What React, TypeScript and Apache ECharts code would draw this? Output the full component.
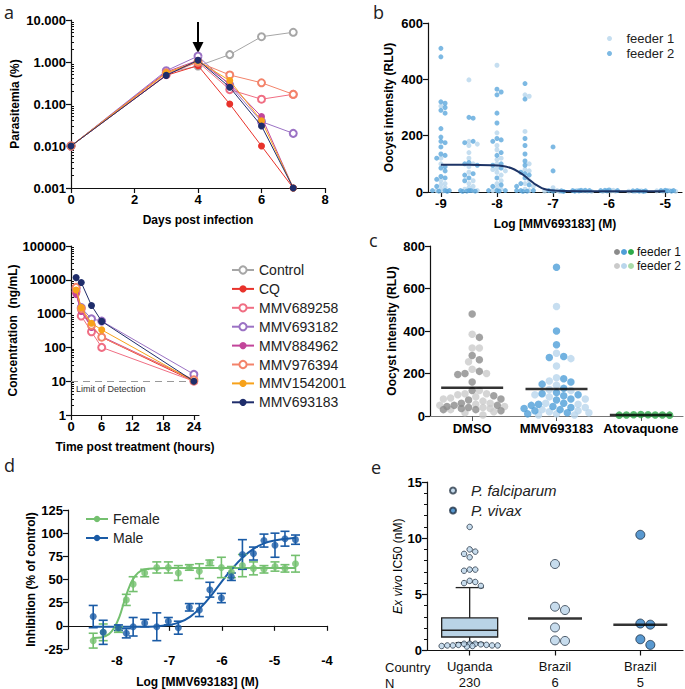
import React, { useEffect, useRef } from 'react';
import * as echarts from 'echarts';

const FONT = '"Liberation Sans", Arial, Helvetica, sans-serif';

// ---------- panel a (top): parasitemia ----------
const COMPOUNDS = ['Control', 'CQ', 'MMV689258', 'MMV693182', 'MMV884962', 'MMV976394', 'MMV1542001', 'MMV693183'];
const DAYS = [0, 3, 4, 5, 6, 7];
const paraControl = [0.01, 0.55, 0.8, 1.5, 4.0, 5.1];
const paraCQ = [0.01, 0.48, 0.82, 0.1, 0.01, 0.001];
const para689258 = [0.01, 0.5, 1.0, 0.22, 0.13, 0.17];
const para693182 = [0.01, 0.62, 1.38, 0.28, 0.038, 0.02];
const para884962 = [0.01, 0.58, 1.1, 0.3, 0.05, 0.001];
const para976394 = [0.01, 0.55, 1.0, 0.49, 0.32, 0.17];
const para1542001 = [0.01, 0.55, 1.05, 0.36, 0.04, 0.001];
const para693183 = [0.01, 0.48, 1.1, 0.25, 0.03, 0.001];
const PARASITEMIA = [paraControl, paraCQ, para689258, para693182, para884962, para976394, para1542001, para693183];
const PARA_TICKS = [0.001, 0.01, 0.1, 1, 10];
const ARROW_DAY = 4;
const ARROW_FROM = 9;
const ARROW_TO = 2.2;

// ---------- panel a (bottom): PK ----------
const PK_HOURS = [1, 2, 4, 6, 24];
const pkControl: number[] = [];
const pkCQ = [4000, 1300, 420, 200, 10];
const pk689258 = [4500, 850, 290, 100, 10];
const pk693182 = [5500, 1500, 700, 600, 16];
const pk884962 = [3700, 1150, 390, 210, 11];
const pk976394 = [6000, 1400, 450, 200, 11];
const pk1542001 = [5000, 1500, 520, 330, 10];
const pk693183 = [11600, 8300, 1740, 590, 10];
const PK = [pkControl, pkCQ, pk689258, pk693182, pk884962, pk976394, pk1542001, pk693183];
const PK_TICKS = [1, 10, 100, 1000, 10000, 100000];
const PK_HOUR_TICKS = [0, 6, 12, 18, 24];
const LOD = 10;

// ---------- panel b ----------
const B_CONC = [-9, -8.5, -8, -7.5, -7, -6.5, -6, -5.5, -5];
const B_TICKS = [-9, -8, -7, -6, -5];
const bFeeder1 = [
  [305, 120, 100, 40, 30, 25, 15, 10, 5, 3],
  [398, 180, 170, 165, 140, 120, 100, 90, 70, 40, 30, 20, 15, 10, 5, 5],
  [450, 210, 165, 150, 120, 115, 100, 85, 80, 75, 70, 60, 40, 30, 15, 10, 5],
  [345, 340, 215, 100, 80, 75, 40, 30, 20, 10, 5],
  [15, 5, 3, 2],
  [4, 3, 2, 5],
  [3, 4, 2, 6],
  [2, 3, 4],
  [3, 2, 5, 4],
];
const bFeeder2 = [
  [510, 480, 320, 315, 300, 290, 280, 225, 195, 180, 175, 160, 135, 130, 120, 90, 85, 75, 55, 50, 45, 20, 5, 5, 5, 3, 2],
  [265, 262, 180, 175, 105, 100, 95, 65, 60, 50, 40, 5, 5, 5, 3, 3, 2],
  [365, 355, 345, 280, 245, 190, 185, 180, 140, 130, 100, 95, 85, 50, 25, 20, 5, 5, 5, 3],
  [385, 330, 190, 165, 135, 110, 95, 70, 65, 60, 50, 30, 25, 20, 5, 5, 5, 3, 2],
  [160, 75, 5, 3, 2, 4],
  [5, 6, 4, 5, 3, 6],
  [6, 5, 4, 7, 5],
  [4, 3, 5, 4, 2],
  [5, 6, 4, 5, 3],
];
const B_FIT_X = [-9, -8.5, -8.1, -7.9, -7.75, -7.6, -7.5, -7.4, -7.3, -7.2, -7.1, -7.0, -6.8, -6.5, -6, -5];
const B_FIT_Y = [97, 97, 95, 92, 85, 70, 56, 40, 25, 14, 8, 5, 3.5, 3, 3, 3];

// ---------- panel c ----------
const C_GROUPS = ['DMSO', 'MMV693183', 'Atovaquone'];
const cDmso1 = [480, 370, 285, 265, 210, 200, 195, 160, 120, 95, 80, 75, 60, 50, 50, 45, 40, 35, 30, 30, 25];
const cDmso2 = [385, 320, 320, 255, 220, 200, 120, 105, 105, 100, 90, 85, 80, 70, 60, 55, 50, 45, 40, 35, 30, 20, 15, 5];
const cMmv1 = [700, 400, 335, 280, 275, 175, 160, 150, 130, 110, 105, 100, 95, 80, 75, 60, 55, 50, 45, 40, 35, 30, 25, 15, 10];
const cMmv2 = [515, 295, 270, 235, 180, 165, 145, 125, 120, 100, 90, 80, 60, 55, 40, 30, 25, 20, 15, 10, 5, 5];
const cAtov1 = [5, 6, 4, 7, 5, 6, 4, 5];
const C_MEANS = [133, 127, 5];

// ---------- panel d ----------
const D_LOG = [-8.45, -8.26, -7.97, -7.82, -7.69, -7.47, -7.24, -7.02, -6.83, -6.62, -6.43, -6.23, -6.01, -5.82, -5.61, -5.4, -5.2, -4.99, -4.8, -4.6];
const dFemale = [-16, -7, -4, 28, 45, 57, 63, 63, 57, 63, 59, 68, 63, 58, 65, 62, 61, 64, 62, 67];
const dFemaleErr = [8, 9, 3, 6, 8, 4, 6, 6, 8, 3, 8, 3, 11, 6, 12, 7, 4, 5, 4, 9];
const dMale = [10, -7, -2, -8, -1, 3, -1, 5, -2, 20, 17, 39, 30, 53, 77, 78, 92, 87, 94, 93];
const dMaleErr = [12, 13, 3, 5, 10, 4, 15, 4, 7, 4, 7, 8, 5, 4, 16, 7, 7, 13, 8, 5];
const D_FEMALE_FIT_X = [-8.45, -8.3, -8.15, -8.05, -7.95, -7.85, -7.75, -7.65, -7.55, -7.4, -7.0, -6, -4.6];
const D_FEMALE_FIT_Y = [-13, -12.5, -9, -2, 10, 28, 44, 54, 59, 61.5, 62.5, 62.5, 62.5];
const D_MALE_FIT_X = [-8.45, -7.5, -7.0, -6.8, -6.6, -6.4, -6.2, -6.0, -5.8, -5.6, -5.4, -5.2, -5.0, -4.6];
const D_MALE_FIT_Y = [-1, -1, 1, 4, 10, 20, 33, 48, 62, 74, 83, 89, 92, 95];
const D_X_TICKS = [-8, -7, -6, -5, -4];

// ---------- panel e ----------
const E_COUNTRIES = ['Uganda', 'Brazil', 'Brazil'];
const E_N = ['230', '6', '5'];
const E_BOX = [0.7, 1.2, 1.8, 2.9, 5.6];
const ugandaOutliers = [11.0, 9.0, 8.8, 8.6, 8.3, 7.2, 7.1, 7.2, 6.2, 6.0, 6.1, 5.75, 0.6, 0.6, 0.45, 0.45, 0.4, 0.45, 0.5, 0.4, 0.45, 0.35, 0.6, 0.55, 0.5];
const brazilPf = [7.7, 3.9, 3.6, 2.05, 0.85, 0.9];
const brazilPv = [10.3, 2.3, 2.4, 1.0, 0.5];
const E_MEDIANS = [2.85, 2.3];

// ---------- styles / layout ----------
const COLORS = ['#a6a6a6', '#e8322b', '#f06e83', '#9b72c4', '#c2459a', '#f3836a', '#f7a21b', '#1f2d6b'];
const HOLLOW = [true, false, true, true, false, true, false, false];
const G_A1 = { left: 71, top: 20, width: 254, height: 168 };
const G_A2 = { left: 71, top: 246, width: 128, height: 169 };
const G_B = { left: 428, top: 23, width: 254, height: 169 };
const G_C = { left: 430, top: 246, width: 253, height: 170 };
const G_D = { left: 68, top: 510, width: 259, height: 168 };
const G_E = { left: 427, top: 482, width: 256, height: 169 };
const B_XMIN = -9.23, B_XMAX = -4.7;
const D_XMIN = -8.93, D_XMAX = -4;
const BLACK = '#111';

function swarm(vals: number[], pxY: number, pxX: number, diam: number, maxPx: number): number[] {
  const idx = vals.map((_, i) => i).sort((a, b) => vals[b] - vals[a]);
  const placed: [number, number][] = [];
  const out = new Array(vals.length).fill(0);
  const step = diam / 2;
  const nSteps = Math.floor(maxPx / step);
  idx.forEach((i) => {
    const y = vals[i] * pxY;
    let best = 0;
    let bestScore = -1;
    for (let k = 0; k <= nSteps * 2; k++) {
      const c = (k % 2 === 1 ? 1 : -1) * Math.ceil(k / 2) * step;
      let minD = Infinity;
      for (const [px, py] of placed) minD = Math.min(minD, Math.hypot(px - c, py - y));
      if (minD >= diam) { best = c; bestScore = Infinity; break; }
      if (minD > bestScore) { bestScore = minD; best = c; }
    }
    placed.push([best, y]);
    out[i] = best / pxX;
  });
  return out;
}

function axis(gridIndex: number, extra: any) {
  const base: any = {
    gridIndex,
    type: 'value',
    axisLine: { show: true, onZero: false, lineStyle: { color: BLACK, width: 1.2 } },
    axisTick: { show: true, length: 5, lineStyle: { color: BLACK, width: 1.2 } },
    axisLabel: { color: '#000', fontFamily: FONT, fontWeight: 'bold', fontSize: 13, margin: 5 },
    splitLine: { show: false },
    nameLocation: 'middle',
    nameTextStyle: { color: '#000', fontFamily: FONT, fontWeight: 'bold', fontSize: 12 },
  };
  const out: any = { ...base };
  Object.keys(extra).forEach((k) => {
    if (base[k] && typeof base[k] === 'object' && !Array.isArray(base[k]) && typeof extra[k] === 'object') {
      out[k] = { ...base[k], ...extra[k] };
    } else out[k] = extra[k];
  });
  return out;
}

function logMinors(lo: number, hi: number): number[] {
  const res: number[] = [];
  for (let e = Math.round(Math.log10(lo)); e < Math.round(Math.log10(hi)); e++) {
    for (let m = 2; m <= 9; m++) res.push(parseFloat((m * Math.pow(10, e)).toPrecision(6)));
  }
  return res;
}

function buildOption() {
  const series: any[] = [];

  // panel a
  COMPOUNDS.forEach((name, i) => {
    const base: any = {
      name,
      type: 'line',
      symbol: HOLLOW[i] ? 'emptyCircle' : 'circle',
      symbolSize: 7,
      color: COLORS[i],
      lineStyle: { color: COLORS[i], width: 1 },
      itemStyle: { color: COLORS[i], borderWidth: HOLLOW[i] ? 1.2 : 0 },
      z: 3 + i,
    };
    const top: any = { ...base, xAxisIndex: 0, yAxisIndex: 0, data: DAYS.map((d, j) => [d, PARASITEMIA[i][j]]) };
    if (i === 0) {
      top.markLine = {
        silent: true,
        symbol: ['none', 'triangle'],
        symbolSize: 11,
        symbolRotate: 180,
        lineStyle: { color: '#000', width: 2, type: 'solid' },
        itemStyle: { color: '#000' },
        label: { show: false },
        data: [[{ coord: [ARROW_DAY, ARROW_FROM] }, { coord: [ARROW_DAY, ARROW_TO] }]],
      };
    }
    series.push(top);
    const bot: any = { ...base, xAxisIndex: 1, yAxisIndex: 1, data: PK_HOURS.slice(0, PK[i].length).map((h, j) => [h, PK[i][j]]) };
    if (i === 1) {
      bot.markLine = {
        silent: true,
        symbol: ['none', 'none'],
        lineStyle: { color: '#999', width: 1, type: [7, 5] },
        label: { show: true, position: 'insideStartBottom', formatter: 'Limit of Detection', fontFamily: FONT, fontSize: 9, color: '#333', distance: [5, 3] },
        data: [{ yAxis: LOD }],
        z: 1,
      };
    }
    series.push(bot);
  });

  // panel b
  const pxXB = G_B.width / (B_XMAX - B_XMIN);
  const pxYB = G_B.height / 600;
  const b1: number[][] = [];
  const b2: number[][] = [];
  B_CONC.forEach((c, k) => {
    const all = bFeeder1[k].concat(bFeeder2[k]);
    const off = swarm(all, pxYB, pxXB, 4.2, 11);
    all.forEach((v, j) => {
      const pt = [c + off[j], v];
      if (j < bFeeder1[k].length) b1.push(pt); else b2.push(pt);
    });
  });
  series.push({ name: 'feeder 1', type: 'scatter', xAxisIndex: 2, yAxisIndex: 2, symbolSize: 5, itemStyle: { color: '#b7d6ec' }, data: b1, z: 2 });
  series.push({ name: 'feeder 2', type: 'scatter', xAxisIndex: 2, yAxisIndex: 2, symbolSize: 5, itemStyle: { color: '#5ca7dc' }, data: b2, z: 3 });
  series.push({
    name: 'fit b', type: 'line', xAxisIndex: 2, yAxisIndex: 2, smooth: 0.4, symbol: 'none',
    lineStyle: { color: '#1d3466', width: 2 }, data: B_FIT_X.map((x, i) => [x, B_FIT_Y[i]]), z: 5,
  });

  // panel c
  const pxXC = G_C.width / 3;
  const pxYC = G_C.height / 800;
  const cGroups = [
    { f1: cDmso1, f2: cDmso2, c1: '#8b8b8b', c2: '#cacaca' },
    { f1: cMmv1, f2: cMmv2, c1: '#4f9fd8', c2: '#b9d6ec' },
    { f1: cAtov1, f2: [] as number[], c1: '#2eaa4a', c2: '#a9dba9' },
  ];
  cGroups.forEach((g, k) => {
    const all = g.f1.concat(g.f2);
    const off = swarm(all, pxYC, pxXC, 7.2, 33);
    const d1: number[][] = [];
    const d2: number[][] = [];
    all.forEach((v, j) => {
      const pt = [k + off[j], v];
      if (j < g.f1.length) d1.push(pt); else d2.push(pt);
    });
    series.push({ name: C_GROUPS[k] + ' feeder 2', type: 'scatter', xAxisIndex: 3, yAxisIndex: 3, symbolSize: 7.5, itemStyle: { color: g.c2 }, data: d2, z: 2 });
    series.push({ name: C_GROUPS[k] + ' feeder 1', type: 'scatter', xAxisIndex: 3, yAxisIndex: 3, symbolSize: 7.5, itemStyle: { color: g.c1 }, data: d1, z: 3 });
  });
  series.push({
    name: 'mean c', type: 'scatter', xAxisIndex: 3, yAxisIndex: 3, symbol: 'rect', symbolSize: [62, 2.5],
    itemStyle: { color: '#000' }, data: C_MEANS.map((m, k) => [k, m]), z: 6,
  });

  // panel d
  const dColors = { Female: '#74c06f', Male: '#1a5ba6' };
  const errSeries = (name: string, ys: number[], es: number[], color: string) => ({
    name, type: 'custom', xAxisIndex: 4, yAxisIndex: 4, z: 4,
    encode: { x: 0, y: 1 },
    data: D_LOG.map((x, i) => [x, ys[i], es[i]]),
    renderItem: (params: any, api: any) => {
      const x = api.value(0), y = api.value(1), e = api.value(2);
      const t = api.coord([x, y + e]);
      const b = api.coord([x, y - e]);
      const cap = 4.5;
      const st = { stroke: color, lineWidth: 1.6 };
      return {
        type: 'group',
        children: [
          { type: 'line', shape: { x1: t[0], y1: t[1], x2: b[0], y2: b[1] }, style: st },
          { type: 'line', shape: { x1: t[0] - cap, y1: t[1], x2: t[0] + cap, y2: t[1] }, style: st },
          { type: 'line', shape: { x1: b[0] - cap, y1: b[1], x2: b[0] + cap, y2: b[1] }, style: st },
        ],
      };
    },
  });
  series.push({
    name: 'Female', type: 'line', xAxisIndex: 4, yAxisIndex: 4, smooth: 0.4, symbol: 'none', color: dColors.Female,
    lineStyle: { color: dColors.Female, width: 2 }, data: D_FEMALE_FIT_X.map((x, i) => [x, D_FEMALE_FIT_Y[i]]), z: 3,
  });
  series.push({
    name: 'Male', type: 'line', xAxisIndex: 4, yAxisIndex: 4, smooth: 0.4, symbol: 'none', color: dColors.Male,
    lineStyle: { color: dColors.Male, width: 2 }, data: D_MALE_FIT_X.map((x, i) => [x, D_MALE_FIT_Y[i]]), z: 3,
  });
  series.push(errSeries('Female err', dFemale, dFemaleErr, dColors.Female));
  series.push(errSeries('Male err', dMale, dMaleErr, dColors.Male));
  series.push({ name: 'Female', type: 'scatter', xAxisIndex: 4, yAxisIndex: 4, symbolSize: 7, itemStyle: { color: dColors.Female }, data: D_LOG.map((x, i) => [x, dFemale[i]]), z: 5 });
  series.push({ name: 'Male', type: 'scatter', xAxisIndex: 4, yAxisIndex: 4, symbolSize: 7, itemStyle: { color: dColors.Male }, data: D_LOG.map((x, i) => [x, dMale[i]]), z: 5 });

  // panel e
  const pxXE = G_E.width / 3;
  const pxYE = G_E.height / 15;
  series.push({
    name: 'box', type: 'custom', xAxisIndex: 5, yAxisIndex: 5, z: 2,
    encode: { x: 0, y: [1, 5] },
    data: [[0, ...E_BOX]],
    renderItem: (params: any, api: any) => {
      const x = api.value(0);
      const lo = api.coord([x, api.value(1)]);
      const q1 = api.coord([x, api.value(2)]);
      const md = api.coord([x, api.value(3)]);
      const q3 = api.coord([x, api.value(4)]);
      const hi = api.coord([x, api.value(5)]);
      const hw = 28, cw = 14;
      const st = { stroke: '#222', lineWidth: 1.3 };
      return {
        type: 'group',
        children: [
          { type: 'line', shape: { x1: hi[0], y1: hi[1], x2: q3[0], y2: q3[1] }, style: st },
          { type: 'line', shape: { x1: lo[0], y1: lo[1], x2: q1[0], y2: q1[1] }, style: st },
          { type: 'line', shape: { x1: hi[0] - cw, y1: hi[1], x2: hi[0] + cw, y2: hi[1] }, style: st },
          { type: 'line', shape: { x1: lo[0] - cw, y1: lo[1], x2: lo[0] + cw, y2: lo[1] }, style: st },
          { type: 'rect', shape: { x: q3[0] - hw, y: q3[1], width: 2 * hw, height: q1[1] - q3[1] }, style: { fill: '#b9d3e6', stroke: '#222', lineWidth: 1.3 } },
          { type: 'line', shape: { x1: md[0] - hw, y1: md[1], x2: md[0] + hw, y2: md[1] }, style: { stroke: '#222', lineWidth: 1.5 } },
        ],
      };
    },
  });
  const uOff = swarm(ugandaOutliers, pxYE, pxXE, 5.6, 30);
  const pfOff = swarm(brazilPf, pxYE, pxXE, 10, 20);
  const pvOff = swarm(brazilPv, pxYE, pxXE, 10, 20);
  const pfData = ugandaOutliers.map((v, i) => ({ value: [0 + uOff[i], v], symbolSize: 5.5 }))
    .concat(brazilPf.map((v, i) => ({ value: [1 + pfOff[i], v], symbolSize: 9 })));
  series.push({
    name: 'P. falciparum', type: 'scatter', xAxisIndex: 5, yAxisIndex: 5, z: 4,
    itemStyle: { color: '#b9d3e8', borderColor: '#2b3a4a', borderWidth: 1 }, data: pfData,
  });
  series.push({
    name: 'P. vivax', type: 'scatter', xAxisIndex: 5, yAxisIndex: 5, z: 4, symbolSize: 9,
    itemStyle: { color: '#2f80c4', borderColor: '#1d2f45', borderWidth: 1 },
    data: brazilPv.map((v, i) => [2 + pvOff[i], v]),
  });
  series.push({
    name: 'median e', type: 'scatter', xAxisIndex: 5, yAxisIndex: 5, symbol: 'rect', symbolSize: [54, 2.5],
    itemStyle: { color: '#000' }, data: E_MEDIANS.map((m, k) => [k + 1, m]), z: 6,
  });

  const xAxis = [
    axis(0, { min: 0, max: 8, interval: 2, name: 'Days post infection', nameGap: 26 }),
    axis(1, { min: 0, max: 25, name: 'Time post treatment (hours)', nameGap: 26,
      axisLabel: { customValues: PK_HOUR_TICKS }, axisTick: { customValues: PK_HOUR_TICKS } }),
    axis(2, { min: B_XMIN, max: B_XMAX, name: 'Log [MMV693183] (M)', nameGap: 26,
      axisLabel: { customValues: B_TICKS }, axisTick: { customValues: B_TICKS } }),
    axis(3, { min: -0.5, max: 2.5, axisLine: { lineStyle: { color: '#777', width: 1.2 } },
      axisLabel: { customValues: [0, 1, 2], formatter: (v: number) => C_GROUPS[Math.round(v)], fontSize: 13, margin: 6 },
      axisTick: { customValues: [0, 1, 2], lineStyle: { color: '#555' } } }),
    axis(4, { min: D_XMIN, max: D_XMAX, name: 'Log [MMV693183] (M)', nameGap: 27,
      axisLine: { onZero: true }, axisLabel: { customValues: D_X_TICKS }, axisTick: { customValues: D_X_TICKS } }),
    axis(5, { min: -0.5, max: 2.5,
      axisLabel: { customValues: [0, 1, 2], formatter: (v: number) => `{c|${E_COUNTRIES[Math.round(v)]}}\n{n|${E_N[Math.round(v)]}}`,
        fontWeight: 'normal', margin: 8,
        rich: { c: { fontFamily: FONT, fontSize: 13, color: '#111', lineHeight: 16 }, n: { fontFamily: FONT, fontSize: 13, color: '#111', lineHeight: 16 } } },
      axisTick: { customValues: [0, 1, 2] } }),
  ];

  const yAxis = [
    axis(0, { type: 'log', logBase: 10, min: 0.001, max: 10, name: 'Parasitemia (%)', nameGap: 50,
      axisLabel: { customValues: PARA_TICKS, formatter: (v: number) => v.toFixed(3) }, axisTick: { customValues: PARA_TICKS } }),
    axis(1, { type: 'log', logBase: 10, min: 1, max: 100000, name: 'Concentration  (ng/mL)', nameGap: 50,
      axisLabel: { customValues: PK_TICKS, formatter: (v: number) => String(Math.round(v)) }, axisTick: { customValues: PK_TICKS } }),
    axis(2, { min: 0, max: 600, interval: 200, name: 'Oocyst intensity (RLU)', nameGap: 33 }),
    axis(3, { min: 0, max: 800, interval: 200, name: 'Oocyst intensity (RLU)', nameGap: 32 }),
    axis(4, { min: -25, max: 125, interval: 25, name: 'Inhibition (% of control)', nameGap: 27 }),
    axis(5, { min: 0, max: 15, interval: 5, name: '{i|Ex vivo} IC50 (nM)', nameGap: 20,
      minorTick: { show: true, splitNumber: 5, length: 3, lineStyle: { color: BLACK, width: 1 } },
      nameTextStyle: { fontWeight: 'normal', fontSize: 12, rich: { i: { fontStyle: 'italic', fontFamily: FONT, fontSize: 12, color: '#000' } } } }),
    {
      gridIndex: 0, type: 'log', logBase: 10, min: 0.001, max: 10,
      axisLine: { show: false }, axisLabel: { show: false }, splitLine: { show: false },
      axisTick: { show: true, length: 3, customValues: logMinors(0.001, 10), lineStyle: { color: BLACK, width: 1 } },
    },
    {
      gridIndex: 1, type: 'log', logBase: 10, min: 1, max: 100000,
      axisLine: { show: false }, axisLabel: { show: false }, splitLine: { show: false },
      axisTick: { show: true, length: 3, customValues: logMinors(1, 100000), lineStyle: { color: BLACK, width: 1 } },
    },
  ];

  const letter = (t: string, x: number, y: number) => ({
    type: 'text', x, y, style: { text: t, fontFamily: '"Open Sans", "Liberation Sans", sans-serif', fontSize: 18, fill: '#222', verticalAlign: 'middle' },
  });
  const dot = (x: number, y: number, c: string) => ({ type: 'circle', shape: { cx: x, cy: y, r: 3 }, style: { fill: c } });
  const txt = (t: string, x: number, y: number, size = 13) => ({
    type: 'text', x, y, style: { text: t, fontFamily: FONT, fontSize: size, fill: '#111', verticalAlign: 'middle' },
  });

  return {
    animation: false,
    backgroundColor: '#fff',
    grid: [G_A1, G_A2, G_B, G_C, G_D, G_E].map((g) => ({ ...g, containLabel: false })),
    xAxis,
    yAxis,
    legend: [
      {
        data: COMPOUNDS, orient: 'vertical', left: 226, top: 258, itemWidth: 22, itemHeight: 9, itemGap: 4.9,
        selectedMode: false, textStyle: { fontFamily: FONT, fontSize: 14, color: '#222', lineHeight: 14 },
      },
      {
        data: ['feeder 1', 'feeder 2'], orient: 'vertical', left: 602, top: 27, itemWidth: 24, itemHeight: 5, itemGap: 2,
        icon: 'circle', selectedMode: false, textStyle: { fontFamily: FONT, fontSize: 13, color: '#222', lineHeight: 12 },
      },
      {
        data: ['Female', 'Male'], orient: 'vertical', left: 80, top: 507, itemWidth: 22, itemHeight: 8, itemGap: 5,
        selectedMode: false, textStyle: { fontFamily: FONT, fontSize: 14, color: '#222', lineHeight: 14 },
      },
      {
        data: ['P. falciparum', 'P. vivax'], orient: 'vertical', left: 444, top: 478, itemWidth: 6, itemHeight: 6, itemGap: 5,
        icon: 'circle', selectedMode: false,
        textStyle: { fontFamily: FONT, fontSize: 15, fontStyle: 'italic', color: '#222', lineHeight: 15, padding: [0, 0, 0, 10] },
      },
    ],
    graphic: [
      letter('a', 4, 12),
      letter('b', 373, 12),
      letter('c', 369, 240),
      letter('d', 4, 465),
      letter('e', 371, 467),
      dot(617, 252, '#8b8b8b'), dot(624, 252, '#4f9fd8'), dot(631, 252, '#2eaa4a'),
      dot(617, 266, '#cacaca'), dot(624, 266, '#b9d6ec'), dot(631, 266, '#a9dba9'),
      txt('feeder 1', 637, 252, 12), txt('feeder 2', 637, 266, 12),
      txt('Country', 385, 667), txt('N', 385, 683),
    ],
    series,
  };
}

export default function App() {
  const ref = useRef<HTMLDivElement>(null);
  useEffect(() => {
    const chart = echarts.init(ref.current!, null, { renderer: 'svg' });
    chart.setOption(buildOption() as any);
    return () => chart.dispose();
  }, []);
  return <div ref={ref} style={{ position: 'absolute', left: 0, top: 0, width: 685, height: 689, background: '#fff' }} />;
}
